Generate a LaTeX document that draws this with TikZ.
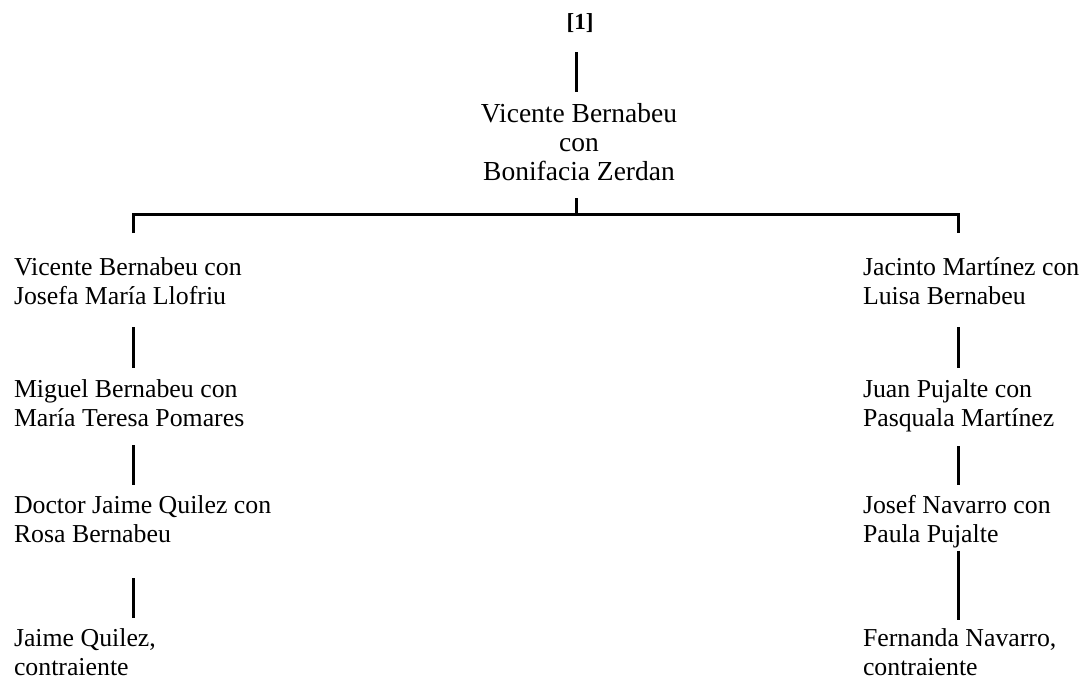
\documentclass[tikz,border=0pt]{standalone}
\usepackage{fontspec}
\setmainfont{Liberation Serif}
\begin{document}
\begin{tikzpicture}[x=1pt,y=-1pt,
  person/.style={inner sep=0pt,outer sep=0pt,align=left,anchor=base west,
    font=\fontsize{25.8}{29}\selectfont},
  couple/.style={inner sep=0pt,outer sep=0pt,align=center,anchor=base,
    font=\fontsize{27.5}{29}\selectfont},
  label/.style={inner sep=0pt,outer sep=0pt,anchor=base,
    font=\fontsize{23}{27}\selectfont\bfseries},
  conn/.style={line width=3pt,black}]
\useasboundingbox (0,0) rectangle (1086,679);

% columns of the connectors
\coordinate (cx) at (576,0);
\coordinate (lx) at (133,0);
\coordinate (rx) at (958,0);
\coordinate (bar) at (0,214);

% head of the tree (nodes are placed by the baseline of their last line)
\node[label] (num) at (580,30) {\strut[1]};
\node[couple] (root) at (579,181) {\strut Vicente Bernabeu\\\strut con\\\strut Bonifacia Zerdan};

% left line of descent
\node[person] (l1) at (14,304) {\strut Vicente Bernabeu con\\\strut Josefa María Llofriu};
\node[person] (l2) at (14,426) {\strut Miguel Bernabeu con\\\strut María Teresa Pomares};
\node[person] (l3) at (14,542) {\strut Doctor Jaime Quilez con\\\strut Rosa Bernabeu};
\node[person] (l4) at (14,675) {\strut Jaime Quilez,\\contraiente};

% right line of descent
\node[person] (r1) at (863,304) {\strut Jacinto Martínez con\\\strut Luisa Bernabeu};
\node[person] (r2) at (863,426) {\strut Juan Pujalte con\\\strut Pasquala Martínez};
\node[person] (r3) at (863,542) {\strut Josef Navarro con\\\strut Paula Pujalte};
\node[person] (r4) at (863,675) {\strut Fernanda Navarro,\\contraiente};

% connectors
\draw[conn,shorten <=14pt,shorten >=10.7pt] (num.south -| cx) -- (root.north -| cx);
\draw[conn] ([yshift=-8.3pt]root.south -| cx) -- (bar -| cx);
\draw[conn] ([yshift=21.7pt]l1.north -| lx) -- (bar -| lx) -- (bar -| rx)
  -- ([yshift=21.7pt]r1.north -| rx);

\draw[conn,shorten <=14.3pt,shorten >=8.7pt] (l1.south -| lx) -- (l2.north -| lx);
\draw[conn,shorten <=10.3pt,shorten >=7.7pt] (l2.south -| lx) -- (l3.north -| lx);
\draw[conn,shorten <=27.3pt,shorten >=8pt] (l3.south -| lx) -- (l4.north -| lx);

\draw[conn,shorten <=14.3pt,shorten >=8.7pt] (r1.south -| rx) -- (r2.north -| rx);
\draw[conn,shorten <=11.3pt,shorten >=7.7pt] (r2.south -| rx) -- (r3.north -| rx);
\draw[conn,shorten >=6pt] (r3.south -| rx) -- (r4.north -| rx);
\end{tikzpicture}
\end{document}
